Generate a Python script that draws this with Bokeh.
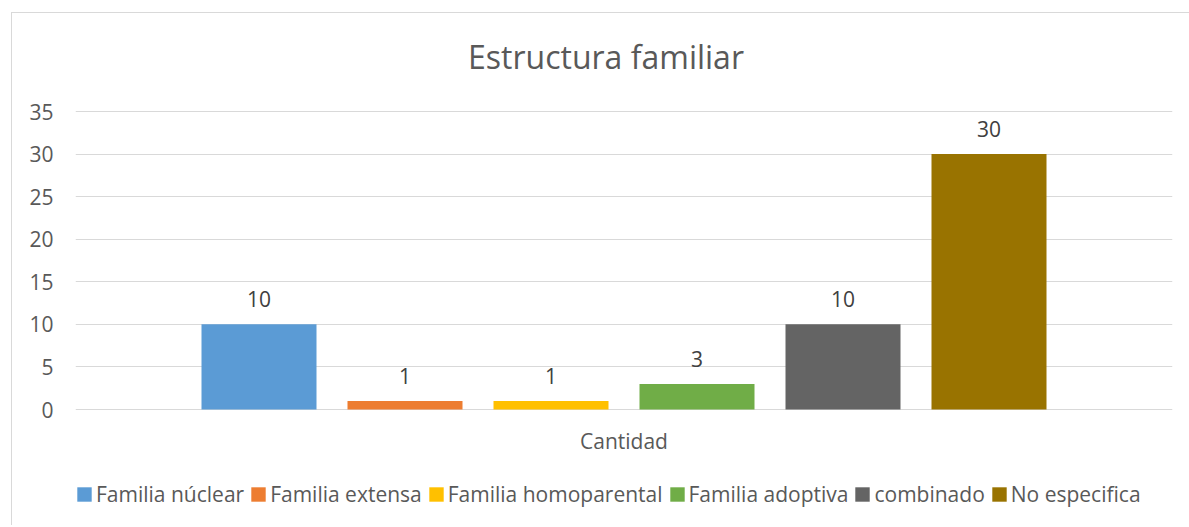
from bokeh.plotting import figure
from bokeh.models import ColumnDataSource, FactorRange, Legend, LegendItem, FixedTicker, Range1d
from bokeh.transform import dodge
from bokeh.embed import file_html
from bokeh.resources import INLINE
from bokeh.core.properties import value

title_text = "Estructura familiar"
category = "Cantidad"
series = ["Familia núclear", "Familia extensa", "Familia homoparental",
          "Familia adoptiva", "combinado", "No especifica"]
counts = [10, 1, 1, 3, 10, 30]
colors = ["#5B9BD5", "#ED7D31", "#FFC000", "#70AD47", "#646464", "#997300"]
y_max = 35
y_step = 5
y_ticks = list(range(0, y_max + 1, y_step))

FONT = "Open Sans"
TXT = "#595959"

# layout geometry (pixels)
frame_h = 512          # whole drawing area height
plot_top_px = 98       # distance from frame top to the 35 gridline
plot_h_px = 298        # height of 0..35
px_per_unit = plot_h_px / y_max
y_top = y_max + plot_top_px / px_per_unit
y_bot = -(frame_h - plot_top_px - plot_h_px) / px_per_unit

p = figure(x_range=FactorRange(category, range_padding=0),
           y_range=Range1d(y_bot, y_top),
           frame_width=1097, frame_height=frame_h,
           output_backend="svg", toolbar_location=None,
           min_border_left=63, min_border_right=17,
           min_border_top=0, min_border_bottom=0)
p.styles = {"border-left": "1px solid #d9d9d9", "border-top": "1px solid #d9d9d9",
            "margin-left": "11px", "margin-top": "12px"}
p.outline_line_color = None

step = 146 / 1097
bw = 115 / 1097
items = []
for i, (name, cnt, col) in enumerate(zip(series, counts, colors)):
    off = (i - (len(series) - 1) / 2) * step
    src = ColumnDataSource(dict(x=[category], y=[cnt], label=[str(cnt)]))
    r = p.vbar(x=dodge("x", off, range=p.x_range), top="y", bottom=0, width=bw,
               fill_color=col, line_color=None, source=src)
    p.text(x=dodge("x", off, range=p.x_range), y="y", text="label", source=src,
           text_align="center", text_baseline="bottom", y_offset=-17,
           text_font=value(FONT), text_font_size="21px", text_color="#404040")
    items.append(LegendItem(label=name, renderers=[r]))

# title and category label as text in the frame
p.text(x=[category], y=[y_max], text=[title_text], x_offset=-18, y_offset=-55,
       text_align="center", text_baseline="middle",
       text_font=value(FONT), text_font_size="32px", text_color=TXT)
p.text(x=[category], y=[0], text=[category], y_offset=31,
       text_align="center", text_baseline="middle",
       text_font=value(FONT), text_font_size="21px", text_color=TXT)

p.yaxis.ticker = FixedTicker(ticks=y_ticks)
p.yaxis.axis_line_color = None
p.yaxis.major_tick_line_color = None
p.yaxis.minor_tick_line_color = None
p.yaxis.major_label_standoff = 16
p.yaxis.major_label_text_font = FONT
p.yaxis.major_label_text_font_size = "21px"
p.yaxis.major_label_text_color = TXT

p.xaxis.visible = False
p.xgrid.grid_line_color = None
p.ygrid.grid_line_color = "#d9d9d9"
p.ygrid.grid_line_width = 1

legend = Legend(items=items, orientation="horizontal", location=(0, 17),
                glyph_width=18, glyph_height=18, label_standoff=3, spacing=5,
                label_text_font=FONT, label_text_font_size="21px",
                label_text_color=TXT, border_line_color=None,
                background_fill_alpha=0, padding=4, margin=0)
p.add_layout(legend)

open("out.html", "w").write(file_html(p, INLINE))
